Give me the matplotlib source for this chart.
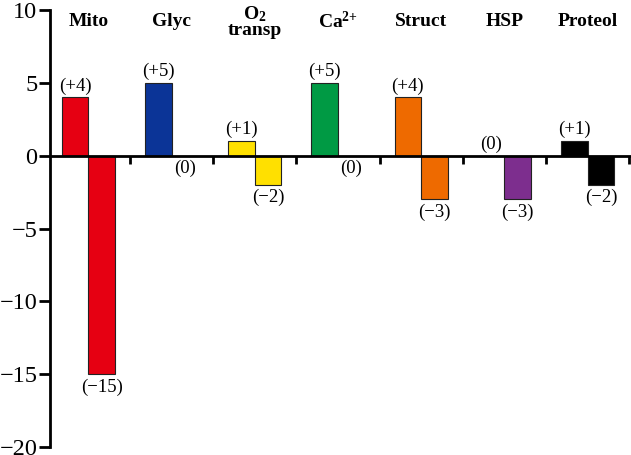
import matplotlib
matplotlib.use("Agg")
import matplotlib.pyplot as plt

# Gene counts per functional group: up-regulated (left bar) and down-regulated (right bar)
categories = ["Mito", "Glyc", "$\\mathbf{O_2}$\ntransp", "$\\mathbf{Ca^{2{+}}}$", "Struct", "HSP", "Proteol"]
up_counts = [4, 5, 1, 5, 4, 0, 1]
down_counts = [-15, 0, -2, 0, -3, -3, -2]
colors = ["#e60012", "#0b3497", "#ffe000", "#009a44", "#ee6a00", "#7d2e8e", "#000000"]
y_ticks = [10, 5, 0, -5, -10, -15, -20]

plt.rcParams["font.family"] = ["Liberation Serif", "DejaVu Serif"]
plt.rcParams["mathtext.fontset"] = "custom"
plt.rcParams["mathtext.rm"] = "Liberation Serif"
plt.rcParams["mathtext.bf"] = "Liberation Serif:bold"


def fmt(v):
    if v > 0:
        return f"(+{v})"
    if v < 0:
        return f"(\u2212{abs(v)})"
    return "(0)"


fig = plt.figure(figsize=(6.31, 4.55), dpi=100)
ax = fig.add_axes([0.0792, 0.0176, 0.9208, 0.9604])

w = 0.32
xs = list(range(len(categories)))
up_x = [x - w / 2 for x in xs]
down_x = [x + w / 2 for x in xs]

ax.bar(up_x, up_counts, width=w, color=colors, edgecolor="#222222", linewidth=0.8, zorder=2)
ax.bar(down_x, down_counts, width=w, color=colors, edgecolor="#222222", linewidth=0.8, zorder=2)

for x, v in zip(up_x, up_counts):
    ax.annotate(fmt(v), (x, v), xytext=(0, 2), textcoords="offset points",
                ha="center", va="bottom", fontsize=13.5)
for x, v in zip(down_x, down_counts):
    ax.annotate(fmt(v), (x, v), xytext=(0, -3), textcoords="offset points",
                ha="center", va="top", fontsize=13.5)

for x, name in zip(xs, categories):
    ax.text(x, 9.2, name, ha="center", va="center", fontsize=14,
            fontweight="bold", linespacing=0.8)

ax.set_xlim(-0.46, 6.52)
ax.set_ylim(-20, 10)
ax.set_yticks(y_ticks)
ax.set_xticks([x + 0.5 for x in xs])
ax.set_xticklabels([])

ax.spines["top"].set_visible(False)
ax.spines["right"].set_visible(False)
ax.spines["bottom"].set_position(("data", 0))
ax.spines["left"].set_linewidth(2)
ax.spines["bottom"].set_linewidth(2)
ax.tick_params(axis="y", direction="out", length=8, width=2, labelsize=17.5, pad=1)
ax.tick_params(axis="x", direction="out", length=6, width=2)

fig.savefig("out.png", dpi=100)
